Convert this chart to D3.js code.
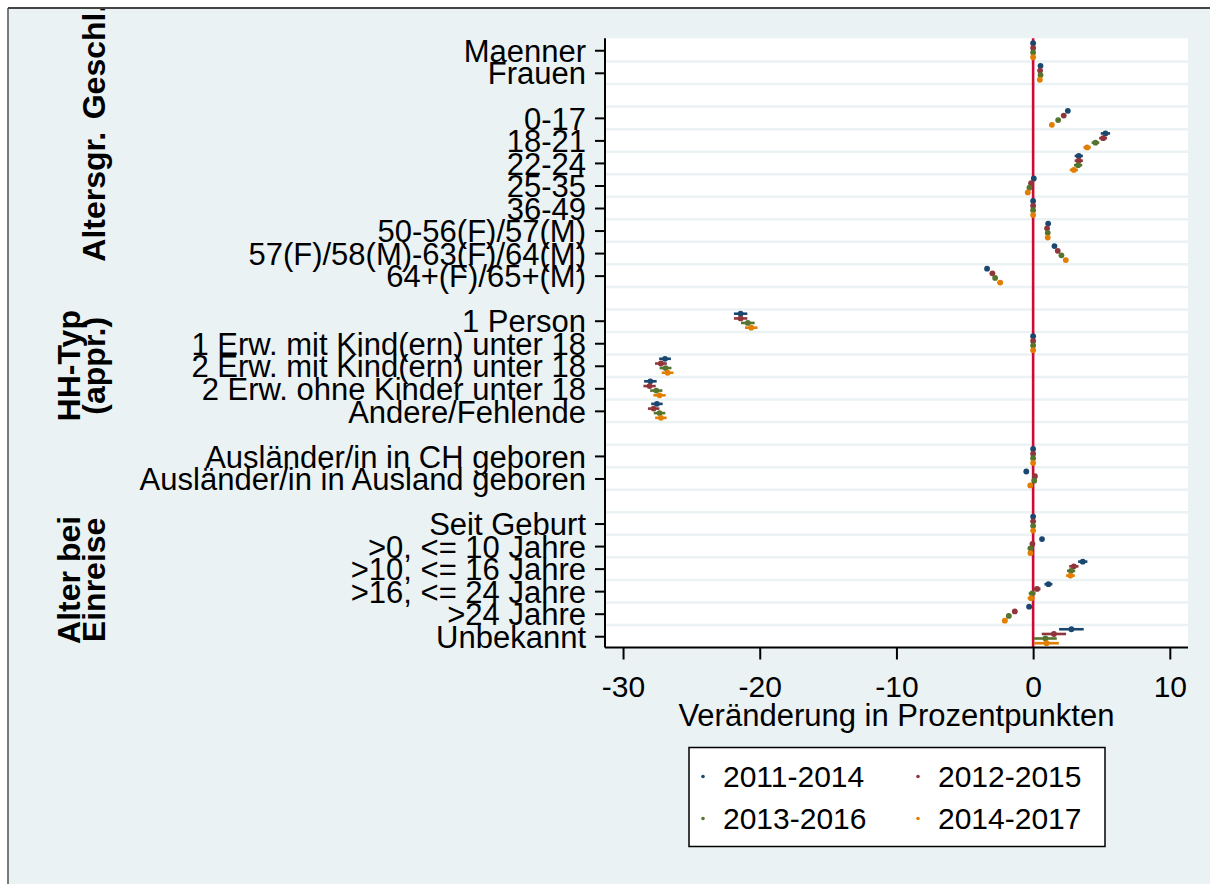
<!DOCTYPE html>
<html>
<head>
<meta charset="utf-8">
<script src="https://cdn.jsdelivr.net/npm/d3@7/dist/d3.min.js"></script>
<style>
  html, body { margin: 0; padding: 0; background: #ffffff; }
  svg { display: block; font-family: "Liberation Sans", Arial, sans-serif; }
</style>
</head>
<body>
<svg id="chart" width="1210" height="884"></svg>
<script>
// Row layout of the y axis (null = empty spacer row between groups)
const rowLabels = [
  "Maenner", "Frauen", null,
  "0-17", "18-21", "22-24", "25-35", "36-49", "50-56(F)/57(M)",
  "57(F)/58(M)-63(F)/64(M)", "64+(F)/65+(M)", null,
  "1 Person", "1 Erw. mit Kind(ern) unter 18", "2 Erw. mit Kind(ern) unter 18",
  "2 Erw. ohne Kinder unter 18", "Andere/Fehlende", null,
  "Ausländer/in in CH geboren", "Ausländer/in in Ausland geboren", null,
  "Seit Geburt", ">0, <= 10 Jahre", ">10, <= 16 Jahre", ">16, <= 24 Jahre",
  ">24 Jahre", "Unbekannt"
];

// Group headings on the far left
const groupNames = [["Geschl."], ["Altersgr."], ["HH-Typ", "(appr.)"], ["Alter bei", "Einreise"]];
const groupStart = [0, 3, 12, 21];
const groupEnd   = [1, 10, 16, 26];

// Series (periods) and their colours
const seriesNames = ["2011-2014", "2012-2015", "2013-2016", "2014-2017"];
const seriesColors = ["#1a476f", "#90353b", "#55752f", "#e37e00"];

// Point estimates per category (in row order, spacers skipped)
const est2011 = [0.0, 0.54, 2.54, 5.29, 3.34, 0.05, 0.0, 1.10, 1.56, -3.37,
                 -21.40, 0.0, -26.93, -28.00, -27.52,
                 0.0, -0.50,
                 0.0, 0.65, 3.63, 1.12, -0.29, 2.80];
const est2012 = [0.0, 0.51, 2.24, 5.12, 3.34, -0.15, 0.0, 1.02, 1.80, -2.98,
                 -21.40, 0.0, -27.23, -28.06, -27.76,
                 0.0, 0.13,
                 0.0, -0.05, 2.98, 0.29, -1.34, 1.52];
const est2013 = [0.0, 0.54, 1.83, 4.56, 3.29, -0.27, 0.0, 1.07, 2.07, -2.78,
                 -20.87, 0.0, -26.89, -27.57, -27.33,
                 0.0, 0.08,
                 0.0, -0.20, 2.78, -0.07, -1.78, 0.90];
const est2014 = [0.0, 0.49, 1.37, 3.95, 2.98, -0.39, 0.0, 1.07, 2.39, -2.41,
                 -20.62, 0.0, -26.74, -27.33, -27.23,
                 0.0, -0.21,
                 0.0, -0.20, 2.73, -0.15, -2.07, 0.98];

// Half-widths of the confidence intervals
const ci2011 = [0.05, 0.08, 0.12, 0.34, 0.30, 0.10, 0.02, 0.10, 0.12, 0.15,
                0.49, 0.02, 0.43, 0.46, 0.42,
                0.02, 0.15,
                0.02, 0.15, 0.34, 0.29, 0.18, 0.90];
const ci2012 = [0.05, 0.08, 0.12, 0.29, 0.30, 0.10, 0.02, 0.10, 0.12, 0.15,
                0.49, 0.02, 0.43, 0.45, 0.42,
                0.02, 0.15,
                0.02, 0.15, 0.34, 0.25, 0.18, 0.89];
const ci2013 = [0.05, 0.08, 0.12, 0.28, 0.30, 0.10, 0.02, 0.10, 0.12, 0.15,
                0.50, 0.02, 0.43, 0.45, 0.42,
                0.02, 0.15,
                0.02, 0.15, 0.30, 0.25, 0.18, 0.83];
const ci2014 = [0.05, 0.08, 0.12, 0.27, 0.30, 0.10, 0.02, 0.10, 0.15, 0.20,
                0.46, 0.02, 0.43, 0.45, 0.42,
                0.02, 0.15,
                0.02, 0.15, 0.32, 0.25, 0.18, 0.90];

// X axis ticks
const xTicks = [-30, -20, -10, 0, 10];
const xTitle = "Veränderung in Prozentpunkten";

(function draw() {
  const estimates = [est2011, est2012, est2013, est2014];
  const halfWidths = [ci2011, ci2012, ci2013, ci2014];
  const seriesOffset = [-0.31, -0.1, 0.1, 0.31];

  // Row index of each category
  const catRows = rowLabels.map((l, i) => l === null ? null : i).filter(i => i !== null);

  const svg = d3.select("#chart");
  const BG = "#eaf2f3";

  // Outer graph region
  svg.append("rect").attr("x", 8).attr("y", 8).attr("width", 1210).attr("height", 884).attr("fill", BG);
  svg.append("line").attr("x1", 8).attr("x2", 8).attr("y1", 8).attr("y2", 884)
    .attr("stroke", "#7a7a7a").attr("stroke-width", 2);
  svg.append("line").attr("x1", 8).attr("x2", 1210).attr("y1", 8).attr("y2", 8)
    .attr("stroke", "#444444").attr("stroke-width", 2);

  svg.append("clipPath").attr("id", "frameClip")
    .append("rect").attr("x", 9).attr("y", 9).attr("width", 1210).attr("height", 884);

  const pLeft = 605, pRight = 1188, pTop = 38.3, pBottom = 647.5;
  const x = d3.scaleLinear().domain([-31.32, 11.33]).range([pLeft, pRight]);
  const y = d3.scaleLinear().domain([-0.53, 26.5]).range([pTop, pBottom]);

  // Plot region
  svg.append("rect").attr("x", pLeft).attr("y", pTop)
    .attr("width", pRight - pLeft).attr("height", pBottom - pTop)
    .attr("fill", "#ffffff");

  // Horizontal grid lines between rows
  svg.append("g").selectAll("line")
    .data(d3.range(0, rowLabels.length - 1).map(i => i + 0.5))
    .join("line")
    .attr("x1", pLeft).attr("x2", pRight)
    .attr("y1", d => y(d)).attr("y2", d => y(d))
    .attr("stroke", BG).attr("stroke-width", 2.5);

  // Reference line at zero
  svg.append("line")
    .attr("x1", x(0)).attr("x2", x(0)).attr("y1", pTop).attr("y2", pBottom)
    .attr("stroke", "#cc0c36").attr("stroke-width", 2.6);

  // Confidence intervals and point estimates
  estimates.forEach((vals, s) => {
    const g = svg.append("g");
    const data = vals.map((v, i) => ({ v, h: halfWidths[s][i], r: catRows[i] + seriesOffset[s] }));
    g.selectAll("line").data(data).join("line")
      .attr("x1", d => x(d.v - d.h)).attr("x2", d => x(d.v + d.h))
      .attr("y1", d => y(d.r)).attr("y2", d => y(d.r))
      .attr("stroke", seriesColors[s]).attr("stroke-width", 2.6);
    g.selectAll("circle").data(data).join("circle")
      .attr("cx", d => x(d.v)).attr("cy", d => y(d.r)).attr("r", 2.9)
      .attr("fill", seriesColors[s]);
  });

  // X axis
  const xAxis = svg.append("g").attr("transform", `translate(0,${pBottom})`)
    .call(d3.axisBottom(x).tickValues(xTicks).tickFormat(d3.format("d"))
      .tickSize(12).tickSizeOuter(0).tickPadding(16));
  xAxis.select(".domain").attr("stroke", "#000").attr("stroke-width", 2).attr("d", `M${pLeft},0H${pRight}`);
  xAxis.selectAll(".tick line").attr("stroke", "#000").attr("stroke-width", 2);
  xAxis.selectAll(".tick text").attr("font-size", 30).attr("fill", "#000")
    .attr("font-family", "Liberation Sans, Arial, sans-serif")
    .text(d => d < 0 ? "-" + Math.abs(d) : String(d));

  svg.append("text").attr("x", x(-10)).attr("y", 726).attr("text-anchor", "middle")
    .attr("font-size", 31).attr("fill", "#000").text(xTitle);

  // Y axis with category labels
  const labelled = rowLabels.map((l, i) => i).filter(i => rowLabels[i] !== null);
  const yAxis = svg.append("g").attr("transform", `translate(${pLeft},0)`)
    .call(d3.axisLeft(y).tickValues(labelled).tickFormat(i => rowLabels[i])
      .tickSize(10).tickSizeOuter(0).tickPadding(9));
  yAxis.select(".domain").attr("stroke", "#000").attr("stroke-width", 2).attr("d", `M0,${pTop}V${pBottom}`);
  yAxis.selectAll(".tick line").attr("stroke", "#000").attr("stroke-width", 2);
  yAxis.selectAll(".tick text").attr("font-size", 31).attr("fill", "#000")
    .attr("dy", "0.36em")
    .attr("font-family", "Liberation Sans, Arial, sans-serif");

  // Group headings
  const gHead = svg.append("g").attr("clip-path", "url(#frameClip)");
  groupNames.forEach((lines, k) => {
    const cy = y((groupStart[k] + groupEnd[k]) / 2);
    const baselines = lines.length === 1 ? [105] : [80, 105];
    lines.forEach((t, j) => {
      gHead.append("text")
        .attr("transform", `translate(${baselines[j]},${cy}) rotate(-90)`)
        .attr("text-anchor", "middle").attr("font-size", 32).attr("font-weight", "bold")
        .attr("fill", "#000").text(t);
    });
  });

  // Legend
  const lg = svg.append("g");
  lg.append("rect").attr("x", 689).attr("y", 747.5).attr("width", 416).attr("height", 99)
    .attr("fill", "#ffffff").attr("stroke", "#000").attr("stroke-width", 1.5);
  const legX = [703, 918], legY = [776.5, 818.5];
  seriesNames.forEach((name, s) => {
    const cx = legX[s % 2], cy = legY[Math.floor(s / 2)];
    lg.append("circle").attr("cx", cx).attr("cy", cy).attr("r", 1.8).attr("fill", seriesColors[s]);
    lg.append("text").attr("x", cx + 20).attr("y", cy + 10.5).attr("font-size", 30).attr("fill", "#000").text(name);
  });
})();
</script>
</body>
</html>
